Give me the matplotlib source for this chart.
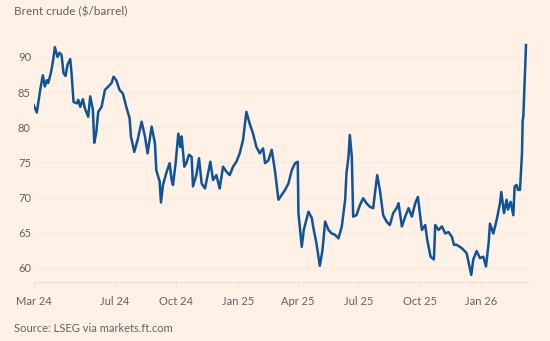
import pandas as pd
import matplotlib
matplotlib.use("Agg")
import matplotlib.pyplot as plt

# Brent crude daily-ish closes
dates = [
    "2024-03-01", "2024-03-06", "2024-03-11", "2024-03-15", "2024-03-18", "2024-03-21",
    "2024-03-23", "2024-03-27", "2024-03-30", "2024-04-02", "2024-04-06", "2024-04-09",
    "2024-04-12", "2024-04-15", "2024-04-18", "2024-04-21", "2024-04-25", "2024-04-27",
    "2024-04-30", "2024-05-05", "2024-05-07", "2024-05-10", "2024-05-14", "2024-05-17",
    "2024-05-22", "2024-05-25", "2024-05-29", "2024-05-31", "2024-06-03", "2024-06-06",
    "2024-06-11", "2024-06-16", "2024-06-21", "2024-06-26", "2024-06-29", "2024-07-03",
    "2024-07-08", "2024-07-13", "2024-07-18", "2024-07-23", "2024-07-25", "2024-07-30",
    "2024-08-04", "2024-08-10", "2024-08-15", "2024-08-19", "2024-08-22", "2024-08-25",
    "2024-08-30", "2024-09-01", "2024-09-06", "2024-09-08", "2024-09-11", "2024-09-16",
    "2024-09-21", "2024-09-24", "2024-09-26", "2024-09-30", "2024-10-04", "2024-10-07",
    "2024-10-09", "2024-10-13", "2024-10-16", "2024-10-20", "2024-10-24", "2024-10-26",
    "2024-10-31", "2024-11-04", "2024-11-08", "2024-11-13", "2024-11-18", "2024-11-21",
    "2024-11-25", "2024-11-30", "2024-12-05", "2024-12-10", "2024-12-15", "2024-12-20",
    "2024-12-25", "2024-12-30", "2025-01-04", "2025-01-09", "2025-01-14", "2025-01-19",
    "2025-01-24", "2025-01-29", "2025-02-03", "2025-02-08", "2025-02-11", "2025-02-16",
    "2025-02-21", "2025-02-26", "2025-03-03", "2025-03-08", "2025-03-13", "2025-03-18",
    "2025-03-23", "2025-03-28", "2025-04-01", "2025-04-02", "2025-04-07", "2025-04-10",
    "2025-04-17", "2025-04-22", "2025-04-24", "2025-04-29", "2025-05-04", "2025-05-08",
    "2025-05-12", "2025-05-17", "2025-05-22", "2025-05-27", "2025-06-01", "2025-06-06",
    "2025-06-11", "2025-06-13", "2025-06-16", "2025-06-18", "2025-06-21", "2025-06-23",
    "2025-06-28", "2025-07-03", "2025-07-08", "2025-07-13", "2025-07-18", "2025-07-23",
    "2025-07-29", "2025-08-02", "2025-08-07", "2025-08-12", "2025-08-17", "2025-08-22",
    "2025-08-27", "2025-08-30", "2025-09-04", "2025-09-09", "2025-09-14", "2025-09-19",
    "2025-09-24", "2025-09-28", "2025-10-04", "2025-10-09", "2025-10-12", "2025-10-17",
    "2025-10-22", "2025-10-24", "2025-10-29", "2025-11-03", "2025-11-08", "2025-11-13",
    "2025-11-18", "2025-11-21", "2025-11-25", "2025-12-03", "2025-12-10", "2025-12-17",
    "2025-12-20", "2025-12-25", "2025-12-30", "2026-01-04", "2026-01-08", "2026-01-12",
    "2026-01-14", "2026-01-19", "2026-01-24", "2026-01-29", "2026-01-31", "2026-02-04",
    "2026-02-08", "2026-02-10", "2026-02-14", "2026-02-18", "2026-02-20", "2026-02-23",
    "2026-02-25", "2026-02-28", "2026-03-03", "2026-03-04", "2026-03-05", "2026-03-09",
]
prices = [
    83.2, 82.1, 85.3, 87.4, 85.8, 86.7,
    86.3, 87.7, 89.3, 91.4, 90.0, 90.6,
    90.3, 87.7, 87.3, 88.9, 89.7, 87.7,
    83.6, 83.4, 83.9, 82.9, 84.0, 82.7,
    81.5, 84.4, 82.5, 77.8, 79.2, 82.2,
    82.9, 85.3, 85.8, 86.3, 87.2, 86.7,
    85.3, 84.8, 82.9, 81.3, 78.7, 76.5,
    78.2, 80.8, 78.7, 76.3, 78.2, 80.1,
    77.7, 73.9, 72.3, 69.3, 71.8, 73.5,
    74.9, 72.5, 71.8, 74.9, 79.1, 77.2,
    78.7, 74.4, 74.9, 76.1, 75.8, 71.6,
    73.2, 75.6, 72.0, 71.3, 73.7, 75.1,
    72.5, 73.2, 71.3, 74.4, 73.7, 73.2,
    74.4, 75.1, 76.3, 78.2, 82.2, 80.5,
    79.1, 77.2, 76.3, 77.0, 74.9, 75.3,
    76.8, 73.7, 69.7, 70.4, 71.1, 72.0,
    73.9, 74.9, 75.1, 67.8, 63.0, 65.4,
    68.0, 67.1, 65.9, 63.5, 60.3, 62.5,
    66.6, 65.4, 64.9, 64.7, 64.2, 65.9,
    69.7, 73.5, 75.8, 78.9, 75.8, 67.3,
    67.5, 68.9, 69.9, 69.2, 68.7, 68.5,
    73.2, 71.1, 67.5, 66.6, 66.1, 67.8,
    68.5, 69.2, 65.9, 67.3, 68.5, 67.3,
    69.2, 70.1, 65.4, 66.1, 64.0, 61.6,
    61.2, 66.1, 65.4, 65.9, 64.9, 65.1,
    64.4, 63.3, 63.3, 62.8, 62.1, 59.0,
    61.2, 62.4, 61.4, 61.6, 60.2, 63.5,
    66.3, 64.9, 66.8, 69.2, 70.8, 67.8,
    69.7, 68.3, 69.4, 67.5, 71.6, 71.8,
    71.1, 71.1, 76.3, 81.0, 81.5, 91.7,
]

y_ticks = [60, 65, 70, 75, 80, 85, 90]
x_ticks = ["2024-03-01", "2024-07-01", "2024-10-01", "2025-01-01",
           "2025-04-01", "2025-07-01", "2025-10-01", "2026-01-01"]
x_labels = ["Mar 24", "Jul 24", "Oct 24", "Jan 25", "Apr 25", "Jul 25", "Oct 25", "Jan 26"]

bg = "#FFF1E5"
txt = "#66605C"
plt.rcParams["font.family"] = ["Lato", "DejaVu Sans"]

fig = plt.figure(figsize=(5.5, 3.41), dpi=100, facecolor=bg)
ax = fig.add_axes([33.5 / 550, 59 / 341, (528 - 33.5) / 550, (282 - 39.4) / 341])
ax.set_facecolor(bg)

s = pd.Series(prices, index=pd.to_datetime(dates))
ax.plot(s.index, s.values, color="#0F5499", lw=1.8, solid_joinstyle="round")

ax.set_xlim(pd.Timestamp("2024-03-01"), pd.Timestamp("2026-03-12"))
ax.set_ylim(58, 92.5)

ax.set_yticks(y_ticks)
ax.set_yticklabels([str(v) for v in y_ticks])
ax.set_xticks(pd.to_datetime(x_ticks))
ax.set_xticklabels(x_labels)

# very faint FT-style grid and baseline
ax.grid(axis="y", color="#F8EBDF", lw=0.8)
for side in ["top", "right", "left"]:
    ax.spines[side].set_visible(False)
ax.spines["bottom"].set_color("#EEE0D4")
ax.spines["bottom"].set_linewidth(0.8)

ax.tick_params(axis="y", length=0, pad=11.2, labelsize=8, labelcolor=txt)
for lab in ax.get_yticklabels():
    lab.set_horizontalalignment("left")
ax.tick_params(axis="x", length=4, width=0.6, color="#EEE0D4", pad=6, labelsize=8, labelcolor=txt)

fig.text(14 / 550, 1 - 12 / 341, "Brent crude ($/barrel)", fontsize=8.5, color=txt, va="center")
fig.text(14 / 550, 1 - 328 / 341, "Source: LSEG via markets.ft.com", fontsize=8, color=txt, va="center")

fig.savefig("out.png", dpi=100, facecolor=bg)
